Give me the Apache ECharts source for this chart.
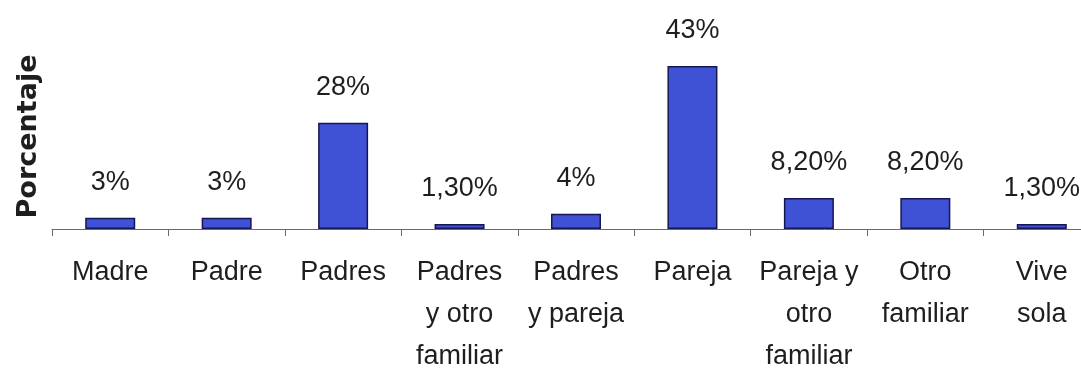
<!DOCTYPE html>
<html>
<head>
<meta charset="utf-8">
<style>
  html, body { margin: 0; padding: 0; background: #ffffff; }
  #chart { width: 1081px; height: 378px; }
</style>
<script src="https://cdn.jsdelivr.net/npm/echarts@6/dist/echarts.min.js"></script>
</head>
<body>
<div id="chart"></div>
<script>
// Living arrangement categories (x axis)
const categories = [
  'Madre', 'Padre', 'Padres', 'Padres\ny otro\nfamiliar', 'Padres\ny pareja',
  'Pareja', 'Pareja y\notro\nfamiliar', 'Otro\nfamiliar', 'Vive\nsola'
];
// Percentage for each category
const percentages = [3, 3, 28, 1.3, 4, 43, 8.2, 8.2, 1.3];
const axisName = 'Porcentaje';

// Whole numbers print as "28%", fractions with two decimals and a comma: "1,30%"
function formatPct(v) {
  return Number.isInteger(v) ? v + '%' : v.toFixed(2).replace('.', ',') + '%';
}

const chart = echarts.init(document.getElementById('chart'), null, { renderer: 'canvas' });
chart.setOption({
  animation: false,
  backgroundColor: '#ffffff',
  // the plot runs past the right edge, so the last category is cut by the frame
  grid: { left: 52, width: 1048, top: 66, height: 163, containLabel: false, outerBoundsMode: 'none' },
  xAxis: {
    type: 'category',
    data: categories,
    boundaryGap: true,
    axisLine: { show: true, lineStyle: { color: '#6a6a6a', width: 1 } },
    axisTick: { show: true, alignWithLabel: false, length: 7, inside: false,
                lineStyle: { color: '#6a6a6a', width: 1 } },
    axisLabel: {
      interval: 0, margin: 23, color: '#1e1e1e',
      fontFamily: 'Liberation Sans, Arial, sans-serif', fontSize: 27, lineHeight: 42
    }
  },
  yAxis: {
    type: 'value',
    min: 0, max: 43,
    name: axisName,
    nameLocation: 'middle',
    nameRotate: 90,
    nameGap: 10,
    nameTextStyle: {
      color: '#1e1e1e', fontFamily: 'DejaVu Sans, sans-serif',
      fontWeight: 'bold', fontSize: 27, padding: [0, 0, 0, 22]
    },
    axisLine: { show: false },
    axisTick: { show: false },
    axisLabel: { show: false },
    splitLine: { show: false }
  },
  series: [{
    type: 'bar',
    data: percentages,
    barWidth: 50,
    itemStyle: { color: '#3f52d6', borderColor: '#161650', borderWidth: 1.5 },
    label: {
      show: true, position: 'top', distance: 22,
      formatter: p => formatPct(p.value),
      color: '#1e1e1e', fontFamily: 'Liberation Sans, Arial, sans-serif', fontSize: 27
    }
  }]
});
</script>
</body>
</html>
